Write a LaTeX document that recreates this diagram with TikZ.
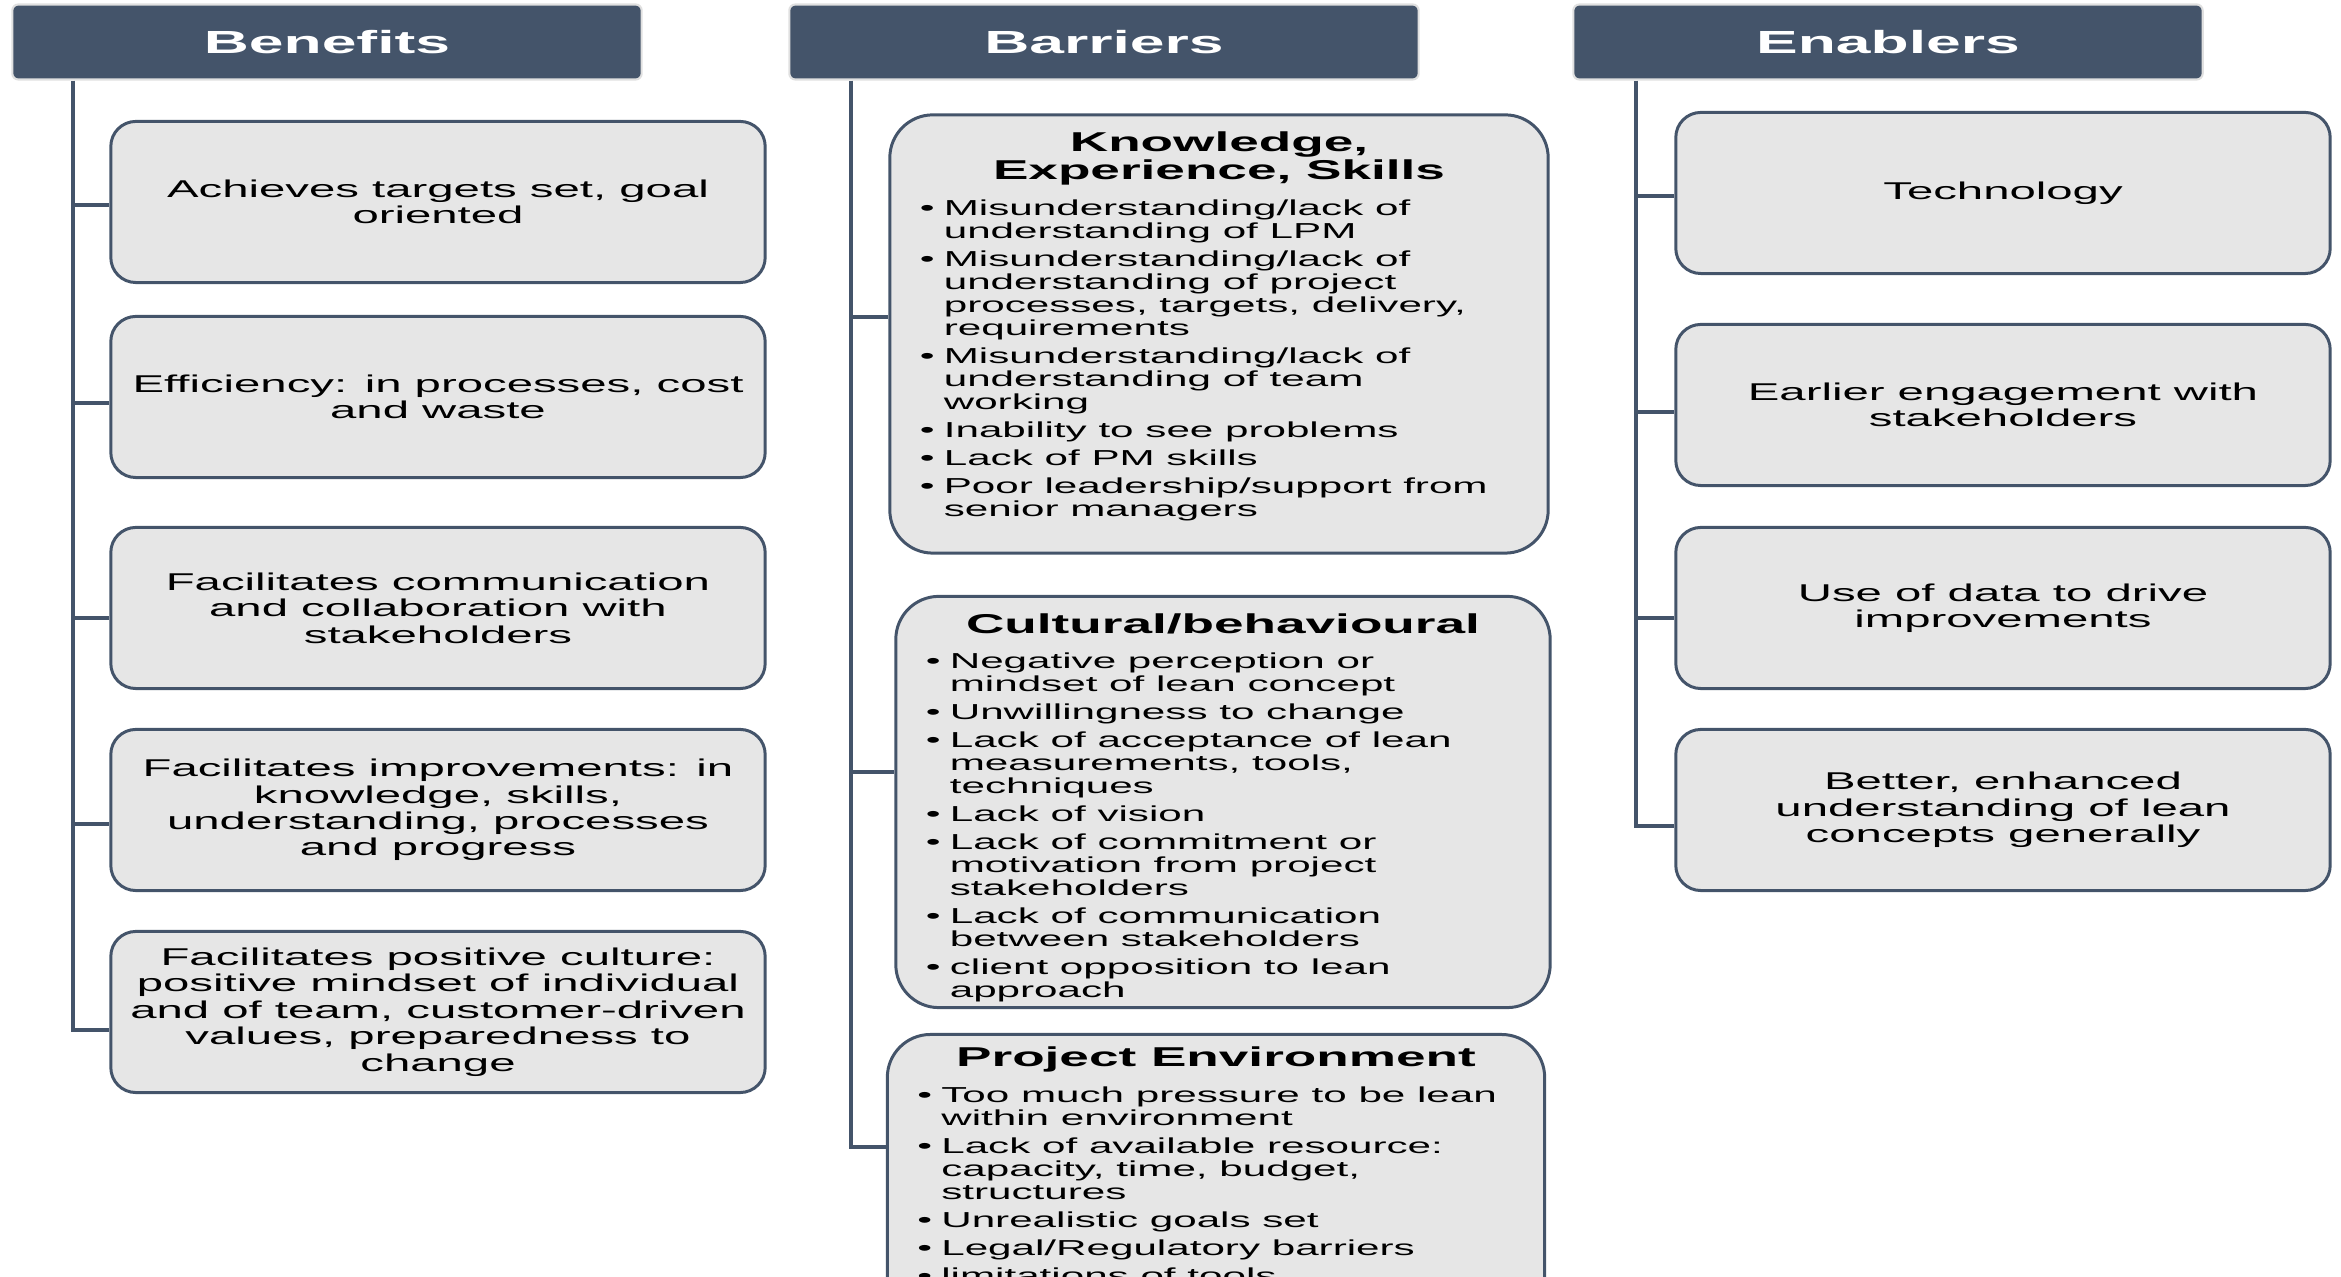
\documentclass[tikz,border=0pt]{standalone}
\usepackage{fontspec}
\setmainfont[FakeStretch=1.95]{Liberation Sans}
\definecolor{slate}{HTML}{44546A}
\definecolor{boxgray}{HTML}{E6E6E6}
\newcommand{\itm}[1]{\par\hangindent=0.24cm\hangafter=1\noindent\makebox[0.24cm][l]{\textbullet}#1}
\newcommand{\bartitle}[1]{{\centering\bfseries\fontsize{7.75}{7.97}\selectfont #1\par}\vspace{2.1pt}}
\newcommand{\bulfont}{\fontsize{6.15}{6.54}\selectfont\raggedright\setlength{\parskip}{1.43pt}}
\begin{document}
\begin{tikzpicture}
[x=0.01cm, y=-0.01cm,
 hdr/.style={fill=slate, draw=black!12, line width=0.6pt, rounded corners=0.06cm, minimum width=6.29cm, minimum height=0.75cm, text=white, font=\bfseries\fontsize{9.1}{10}\selectfont},
 box/.style={fill=boxgray, draw=slate, line width=0.85pt, rounded corners=0.25cm, minimum width=6.54cm, minimum height=1.61cm, inner sep=0pt, align=center, font=\fontsize{6.9}{7.5}\selectfont},
 bar/.style={fill=boxgray, draw=slate, line width=0.85pt, rounded corners=0.43cm, inner xsep=0.3cm, inner ysep=0.17cm},
 trunk/.style={draw=slate, line width=0.9pt}]
\useasboundingbox (0,0) rectangle (2341,1277);
\clip (0,0) rectangle (2341,1277);

\node (Benefits) at (327,42) [hdr] {Benefits};
\node (Barriers) at (1104,42) [hdr] {Barriers};
\node (Enablers) at (1888,42) [hdr] {Enablers};

\node (ben1) at (438,202) [box] {Achieves targets set, goal\\oriented};
\node (ben2) at (438,397) [box] {Efficiency: in processes, cost\\and waste};
\node (ben3) at (438,608) [box] {Facilitates communication\\and collaboration with\\stakeholders};
\node (ben4) at (438,810) [box] {Facilitates improvements: in\\knowledge, skills,\\understanding, processes\\and progress};
\node (ben5) at (438,1012) [box] {Facilitates positive culture:\\positive mindset of individual\\and of team, customer-driven\\values, preparedness to\\change};

\node (KES) at (1219,334) [bar] {\begin{minipage}[t][4.04cm][t]{5.98cm}
\bartitle{Knowledge,\\Experience, Skills}\bulfont
\itm{Misunderstanding/lack of\newline understanding of LPM}
\itm{Misunderstanding/lack of\newline understanding of project\newline processes, targets, delivery,\newline requirements}
\itm{Misunderstanding/lack of\newline understanding of team\newline working}
\itm{Inability to see problems}
\itm{Lack of PM skills}
\itm{Poor leadership/support from\newline senior managers}
\end{minipage}};
\node (Cult) at (1223,802) [bar] {\begin{minipage}[t][3.77cm][t]{5.94cm}
\bartitle{Cultural/behavioural}\bulfont
\itm{Negative perception or\newline mindset of lean concept}
\itm{Unwillingness to change}
\itm{Lack of acceptance of lean\newline measurements, tools,\newline techniques}
\itm{Lack of vision}
\itm{Lack of commitment or\newline motivation from project\newline stakeholders}
\itm{Lack of communication\newline between stakeholders}
\itm{client opposition to lean\newline approach}
\end{minipage}};
\node (PE) at (1216,1033) [bar, anchor=north, inner ysep=0.125cm] {\begin{minipage}[t][4.2cm][t]{5.97cm}
\bartitle{Project Environment}\bulfont
\itm{Too much pressure to be lean\newline within environment}
\itm{Lack of available resource:\newline capacity, time, budget,\newline structures}
\itm{Unrealistic goals set}
\itm{Legal/Regulatory barriers}
\itm{limitations of tools}
\end{minipage}};

\node (ena1) at (2003,193) [box] {Technology};
\node (ena2) at (2003,405) [box] {Earlier engagement with\\stakeholders};
\node (ena3) at (2003,608) [box] {Use of data to drive\\improvements};
\node (ena4) at (2003,810) [box] {Better, enhanced\\understanding of lean\\concepts generally};

\coordinate (benT) at (Benefits.south -| 73,0);
\coordinate (barT) at (Barriers.south -| 851,0);
\coordinate (enaT) at (Enablers.south -| 1636,0);

\draw [trunk] (benT) |- (ben5.west |- 0,1030);
\draw [trunk] (benT |- 0,205) -- (ben1.west |- 0,205);
\draw [trunk] (benT |- 0,403) -- (ben2.west |- 0,403);
\draw [trunk] (benT |- 0,618) -- (ben3.west |- 0,618);
\draw [trunk] (benT |- 0,824) -- (ben4.west |- 0,824);

\draw [trunk] (barT) |- (PE.west |- 0,1147);
\draw [trunk] (barT |- 0,317) -- (KES.west |- 0,317);
\draw [trunk] (barT |- 0,772) -- (Cult.west |- 0,772);

\draw [trunk] (enaT) |- (ena4.west |- 0,826);
\draw [trunk] (enaT |- 0,196) -- (ena1.west |- 0,196);
\draw [trunk] (enaT |- 0,412) -- (ena2.west |- 0,412);
\draw [trunk] (enaT |- 0,618) -- (ena3.west |- 0,618);
\end{tikzpicture}
\end{document}
